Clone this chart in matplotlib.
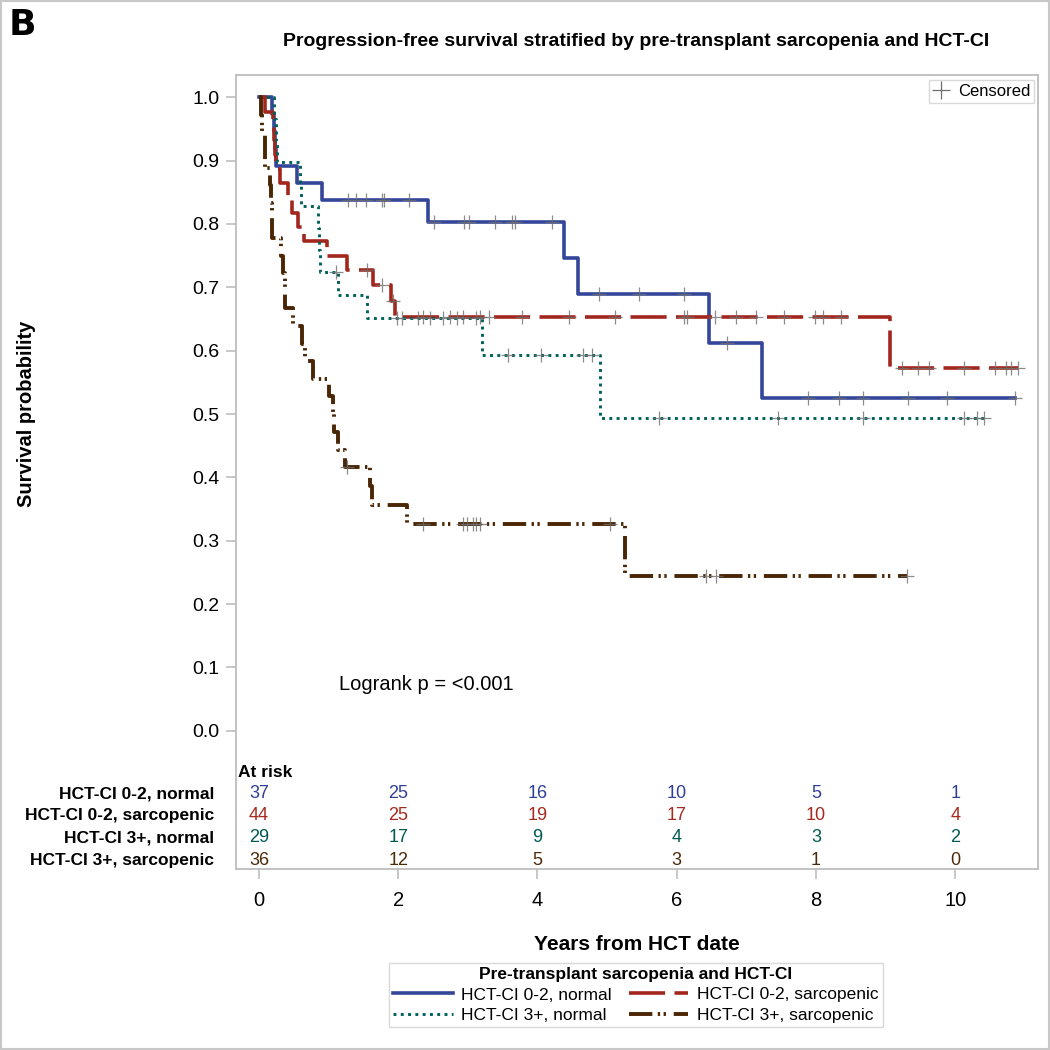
import numpy as np
import matplotlib
matplotlib.use("Agg")
import matplotlib.pyplot as plt
from matplotlib.lines import Line2D
from matplotlib.patches import Rectangle
from matplotlib import font_manager

# Kaplan-Meier step data (time in years, survival probability)
blue_t = [0, 0.18, 0.22, 0.23, 0.24, 0.54, 0.90, 2.43, 4.38, 4.58, 6.47, 7.22]
blue_s = [1.0, 0.973, 0.946, 0.919, 0.892, 0.865, 0.838, 0.803, 0.746, 0.689, 0.612, 0.525]
blue_end = 10.86
blue_cens = [1.28, 1.40, 1.54, 1.76, 1.79, 2.15, 2.52, 2.95, 3.02, 3.39, 3.63, 3.68, 4.21,
             4.89, 5.46, 6.11, 6.72, 7.89, 8.33, 8.67, 9.32, 9.88, 10.86]

red_t = [0, 0.08, 0.20, 0.22, 0.23, 0.24, 0.30, 0.41, 0.47, 0.565, 0.64, 0.97, 1.26, 1.64, 1.90, 1.95, 9.07]
red_s = [1.0, 0.977, 0.955, 0.932, 0.909, 0.886, 0.864, 0.841, 0.818, 0.795, 0.773, 0.75, 0.727,
         0.703, 0.678, 0.653, 0.573]
red_end = 10.9
red_cens = [1.55, 1.76, 1.93, 2.36, 2.74, 2.93, 3.17, 3.31, 3.78, 4.46, 5.11, 6.10, 6.15, 6.55, 6.85,
            7.14, 7.54, 7.99, 8.10, 8.36, 9.23, 9.47, 9.62, 10.13, 10.57, 10.73, 10.80, 10.9]

green_t = [0, 0.22, 0.24, 0.26, 0.59, 0.60, 0.85, 0.86, 0.87, 1.13, 1.55, 3.20, 4.90]
green_s = [1.0, 0.966, 0.931, 0.897, 0.862, 0.828, 0.793, 0.759, 0.724, 0.688, 0.652, 0.593, 0.494]
green_end = 10.41
green_cens = [1.10, 1.98, 2.06, 2.29, 2.46, 2.65, 2.84, 3.12, 3.57, 4.05, 4.65, 4.78, 5.74, 7.46,
              8.68, 10.12, 10.31, 10.41]

brown_t = [0, 0.03, 0.05, 0.08, 0.09, 0.16, 0.17, 0.18, 0.185, 0.31, 0.34, 0.37, 0.375, 0.49, 0.62,
           0.66, 0.77, 1.01, 1.06, 1.08, 1.14, 1.24, 1.60, 1.62, 2.12, 5.26]
brown_s = [1.0, 0.972, 0.944, 0.917, 0.889, 0.861, 0.833, 0.806, 0.778, 0.75, 0.722, 0.694, 0.667,
           0.639, 0.611, 0.583, 0.556, 0.528, 0.5, 0.472, 0.444, 0.417, 0.387, 0.357, 0.327, 0.245]
brown_end = 9.31
brown_cens = [1.26, 2.36, 2.93, 2.99, 3.07, 3.12, 3.18, 5.04, 6.42, 6.57, 9.31]

group_names = ["HCT-CI 0-2, normal", "HCT-CI 0-2, sarcopenic", "HCT-CI 3+, normal", "HCT-CI 3+, sarcopenic"]
risk_times = [0, 2, 4, 6, 8, 10]
risk_blue = [37, 25, 16, 10, 5, 1]
risk_red = [44, 25, 19, 17, 10, 4]
risk_green = [29, 17, 9, 4, 3, 2]
risk_brown = [36, 12, 5, 3, 1, 0]

# fonts
names = {f.name for f in font_manager.fontManager.ttflist}
REG = "Liberation Sans"
NARROW = "Liberation Sans Narrow" if "Liberation Sans Narrow" in names else "Liberation Sans"

GREY = "#BDBDBD"
colors = ["#34469A", "#A3261D", "#00615A", "#4A2605"]
text_colors = ["#2F3F97", "#A52A1F", "#005A52", "#4D2A08"]
styles = ["-", (0, (10, 2.6)), (0, (1, 1.5)), (0, (6, 1.4, 0.6, 0.9, 0.6, 2.0))]
widths = [2.6, 2.6, 2.1, 2.8]

fig = plt.figure(figsize=(10.5, 10.5), dpi=100)
ax = fig.add_axes([236 / 1050, 1 - 869 / 1050, (1038 - 236) / 1050, (869 - 75) / 1050])

curves = [(blue_t, blue_s, blue_end, blue_cens),
          (red_t, red_s, red_end, red_cens),
          (green_t, green_s, green_end, green_cens),
          (brown_t, brown_s, brown_end, brown_cens)]

handles = []
for i, (t, s, end, cens) in enumerate(curves):
    tt = list(t) + [end]
    ss = list(s) + [s[-1]]
    h, = ax.step(tt, ss, where="post", color=colors[i], lw=widths[i], ls=styles[i],
                 label=group_names[i], zorder=3)
    handles.append(h)

# censor marks on the curves
for i, (t, s, end, cens) in enumerate(curves):
    idx = np.searchsorted(np.array(t), np.array(cens), side="right") - 1
    cy = np.array(s)[idx]
    ax.plot(cens, cy, ls="none", marker="+", ms=10, mew=0.9, color="#6E6E6E", alpha=0.8, zorder=4)

ax.set_xlim(-0.33, 11.19)
ax.set_ylim(-0.218, 1.035)

ax.set_yticks(np.arange(0, 1.01, 0.1))
ax.set_yticklabels([f"{v:.1f}" for v in np.arange(0, 1.01, 0.1)], fontfamily=REG, fontsize=14)
ax.set_xticks(risk_times)
ax.set_xticklabels([str(v) for v in risk_times], fontfamily=NARROW, fontsize=14.5)
ax.tick_params(axis="both", color=GREY, length=7, width=1.2)
ax.tick_params(axis="y", pad=5)
ax.tick_params(axis="x", pad=9)
for sp in ax.spines.values():
    sp.set_color(GREY)
    sp.set_linewidth(1.3)

ax.set_xlabel("Years from HCT date", fontfamily=NARROW, fontsize=15, fontweight="bold", labelpad=18)

# at-risk table
ax.text(0.002, -0.065, "At risk", transform=ax.get_yaxis_transform(), ha="left", va="center",
        fontfamily=NARROW, fontsize=12.5, fontweight="bold")
row_y = [-0.0996, -0.134, -0.169, -0.204]
risks = [risk_blue, risk_red, risk_green, risk_brown]
for i in range(4):
    ax.text(-0.027, row_y[i], group_names[i], transform=ax.get_yaxis_transform(), ha="right",
            va="center", fontfamily=NARROW, fontsize=12.5, fontweight="bold", clip_on=False)
    for tx, n in zip(risk_times, risks[i]):
        ax.text(tx, row_y[i], str(n), ha="center", va="center", color=text_colors[i],
                fontfamily=NARROW, fontsize=13)

ax.text(1.15, 0.073, "Logrank p = <0.001", ha="left", va="center", fontfamily=REG, fontsize=14.5)

# censored legend
cens_handle = Line2D([], [], ls="none", marker="+", ms=13, mew=0.9, color="#6E6E6E")
leg1 = ax.legend([cens_handle], ["Censored"], loc="upper right", bbox_to_anchor=(0.9955, 0.994),
                 prop={"family": REG, "size": 12}, frameon=True, fancybox=False, edgecolor="#D0D0D0",
                 handlelength=1.0, handletextpad=0.5, borderpad=0.25, borderaxespad=0)
leg1.get_frame().set_linewidth(1.0)

# group legend at bottom
order = [0, 2, 1, 3]
leg2 = fig.legend([handles[k] for k in order], [group_names[k] for k in order], ncol=2,
                  loc="center", bbox_to_anchor=(636 / 1050, 1 - 995 / 1050),
                  title="Pre-transplant sarcopenia and HCT-CI",
                  title_fontproperties={"family": REG, "size": 12.5, "weight": "bold"},
                  prop={"family": REG, "size": 12.5}, frameon=True, fancybox=False,
                  edgecolor="#D0D0D0", handlelength=3.4, handletextpad=0.5, columnspacing=1.0,
                  borderpad=0.25, labelspacing=0.3)
leg2.get_frame().set_linewidth(1.0)

fig.text(636 / 1050, 1 - 41 / 1050, "Progression-free survival stratified by pre-transplant sarcopenia and HCT-CI",
         ha="center", va="center", fontfamily=REG, fontsize=14, fontweight="bold")
fig.text(27 / 1050, 1 - 414 / 1050, "Survival probability", rotation=90, ha="center", va="center",
         fontfamily=REG, fontsize=14.5, fontweight="bold")
fig.text(9 / 1050, 1 - 25 / 1050, "B", ha="left", va="center", fontfamily="DejaVu Sans",
         fontsize=26, fontweight="heavy")

fig.patches.append(Rectangle((0.001, 0.001), 0.998, 0.998, transform=fig.transFigure,
                             fill=False, edgecolor="#C8C8C8", lw=1.5))

fig.savefig("out.png", dpi=100)
